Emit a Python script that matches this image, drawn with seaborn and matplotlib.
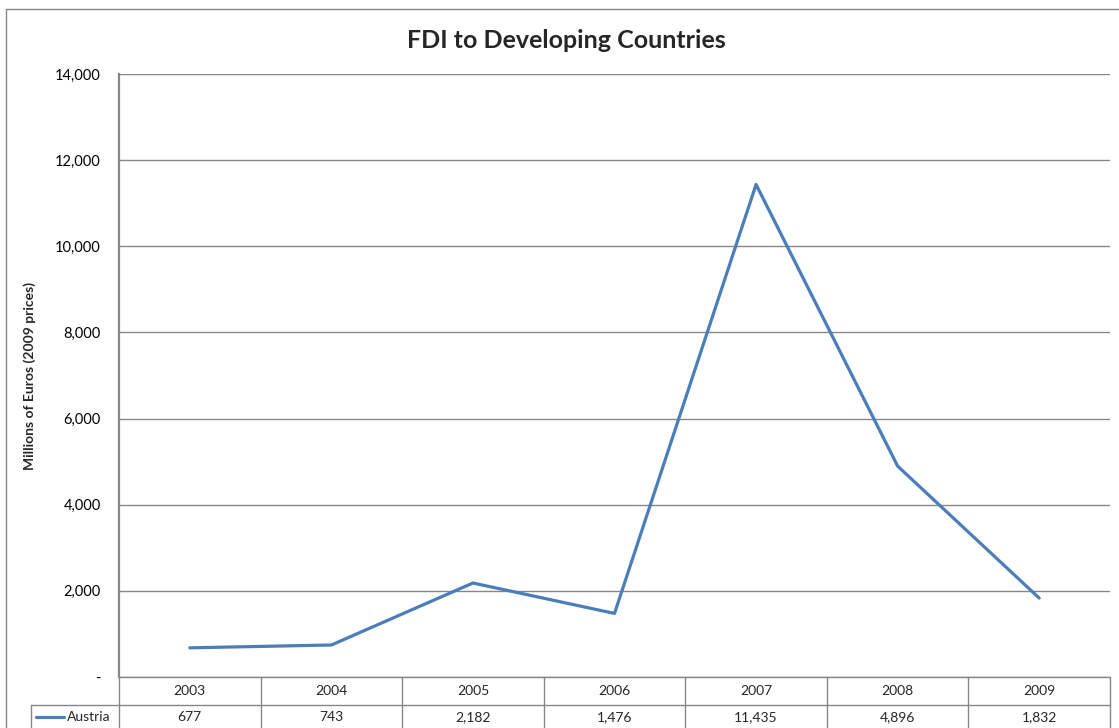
import pandas as pd
import matplotlib
matplotlib.use("Agg")
import matplotlib.pyplot as plt
import matplotlib.transforms as mtransforms
from matplotlib.lines import Line2D
from matplotlib.ticker import FuncFormatter
import seaborn as sns

# Data
years = ["2003", "2004", "2005", "2006", "2007", "2008", "2009"]
austria = [677, 743, 2182, 1476, 11435, 4896, 1832]
series_name = "Austria"
title = "FDI to Developing Countries"
y_label = "Millions of Euros (2009 prices)"
y_ticks = [0, 2000, 4000, 6000, 8000, 10000, 12000, 14000]

LINE_BLUE = "#4a7ebb"
GRID = "#868686"
FONT = ["Lato", "DejaVu Sans"]

sns.set_style("white")
plt.rcParams["font.family"] = FONT

W, H = 1119, 728
fig = plt.figure(figsize=(W / 100, H / 100), dpi=100)

# plot area in pixels: x 119..1110, y 74..677
left, right, top, bottom = 119, 1110, 74, 677
ax = fig.add_axes([left / W, 1 - bottom / H, (right - left) / W, (bottom - top) / H])

df = pd.DataFrame({"year": years, "value": austria})
df["pos"] = range(len(years))
sns.lineplot(data=df, x="pos", y="value", ax=ax, color=LINE_BLUE, linewidth=2.3)

ax.set_xlim(-0.5, len(years) - 0.5)
ax.set_ylim(y_ticks[0], y_ticks[-1])
ax.set_yticks(y_ticks)
ax.yaxis.set_major_formatter(FuncFormatter(lambda v, p: "-" if v == 0 else f"{int(v):,}"))
ax.tick_params(axis="y", length=0, pad=13, labelsize=10.5, colors="black")
ax.set_xticks([])
ax.set_xlabel("")
ax.set_ylabel(y_label, fontsize=10, fontweight="bold")
ax.yaxis.set_label_coords((36 - left) / (right - left), 0.5)
ax.grid(axis="y", color=GRID, linewidth=1)
ax.grid(axis="x", visible=False)
for side in ["top", "right", "bottom"]:
    ax.spines[side].set_visible(False)
ax.spines["left"].set_color(GRID)
ax.spines["left"].set_linewidth(1.6)

# data table under the plot
trans = mtransforms.blended_transform_factory(ax.transData, ax.transAxes)
ph = bottom - top
r1 = -28 / ph   # bottom of year row
r2 = -60 / ph   # bottom of value row (below image edge)
n = len(years)
lw = 1.0
# horizontal lines
for yy in [0, r1]:
    ax.add_line(Line2D([-0.5, n - 0.5], [yy, yy], transform=trans, color=GRID, lw=lw, clip_on=False))
# vertical lines at category boundaries
for i in range(n + 1):
    ax.add_line(Line2D([i - 0.5, i - 0.5], [0, r2], transform=trans, color=GRID, lw=lw, clip_on=False))
for i, (yr, v) in enumerate(zip(years, austria)):
    ax.text(i, -14 / ph, yr, transform=trans, ha="center", va="center", fontsize=10)
    ax.text(i, -40 / ph, f"{v:,}", transform=trans, ha="center", va="center", fontsize=10)

# legend key cell on the left of the value row
fx = lambda px: px / W
fy = lambda py: 1 - py / H
fig.add_artist(Line2D([fx(31), fx(119)], [fy(705), fy(705)], color=GRID, lw=lw))
fig.add_artist(Line2D([fx(31), fx(31)], [fy(705), fy(740)], color=GRID, lw=lw))
fig.add_artist(Line2D([fx(36), fx(64)], [fy(717), fy(717)], color=LINE_BLUE, lw=2.3))
fig.text(fx(67), fy(717), series_name, ha="left", va="center", fontsize=10)

# outer chart border
fig.add_artist(Line2D([fx(6), fx(1125)], [fy(9), fy(9)], color=GRID, lw=1))
fig.add_artist(Line2D([fx(6), fx(6)], [fy(9), fy(740)], color=GRID, lw=1))

fig.text(fx(566), fy(40), title, ha="center", va="center", fontsize=18, fontweight="bold")

fig.savefig("out.png", dpi=100)
